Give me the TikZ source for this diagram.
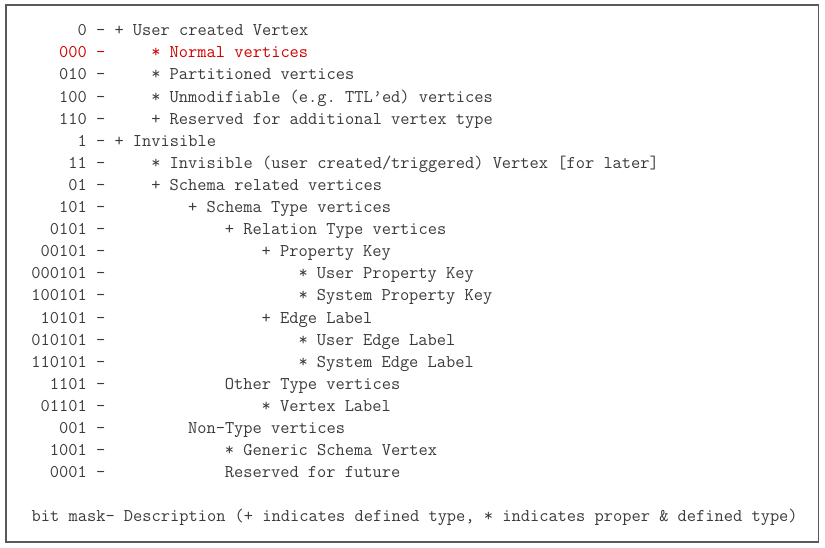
\documentclass[tikz,border=0pt]{standalone}
\definecolor{txt}{HTML}{3A3A3A}
\definecolor{redtxt}{HTML}{D00000}
\definecolor{frame}{HTML}{595959}
\begin{document}
\begin{tikzpicture}[x=0.75pt,y=-0.75pt,
  line/.style={inner sep=0pt,outer sep=0pt,anchor=base west,text=txt,
    font=\fontsize{13.44}{15}\selectfont\ttfamily\frenchspacing},
  mask/.style={line,anchor=base east},
  hot/.style={text=redtxt}]
\useasboundingbox (0,0) rectangle (825,547);
\draw[frame,line width=1.1pt] (6,5) rectangle (818.5,542);
% column x = 31.7 + 9.2*c ; baseline y = 35.7 + 22.1*row
\def\cx#1{31.7+9.2*#1}
\node[mask]      (m0)  at ({\cx{8}},{35.7+22.1*0})  {0 -};
\node[line]      (t0)  at ({\cx{9}},{35.7+22.1*0})  {+ User created Vertex};
\node[mask,hot]  (m1)  at ({\cx{8}},{35.7+22.1*1})  {000 -};
\node[line,hot]  (t1)  at ({\cx{13}},{35.7+22.1*1}) {* Normal vertices};
\node[mask]      (m2)  at ({\cx{8}},{35.7+22.1*2})  {010 -};
\node[line]      (t2)  at ({\cx{13}},{35.7+22.1*2}) {* Partitioned vertices};
\node[mask]      (m3)  at ({\cx{8}},{35.7+22.1*3})  {100 -};
\node[line]      (t3)  at ({\cx{13}},{35.7+22.1*3}) {* Unmodifiable (e.g. TTL’ed) vertices};
\node[mask]      (m4)  at ({\cx{8}},{35.7+22.1*4})  {110 -};
\node[line]      (t4)  at ({\cx{13}},{35.7+22.1*4}) {+ Reserved for additional vertex type};
\node[mask]      (m5)  at ({\cx{8}},{35.7+22.1*5})  {1 -};
\node[line]      (t5)  at ({\cx{9}},{35.7+22.1*5})  {+ Invisible};
\node[mask]      (m6)  at ({\cx{8}},{35.7+22.1*6})  {11 -};
\node[line]      (t6)  at ({\cx{13}},{35.7+22.1*6}) {* Invisible (user created/triggered) Vertex [for later]};
\node[mask]      (m7)  at ({\cx{8}},{35.7+22.1*7})  {01 -};
\node[line]      (t7)  at ({\cx{13}},{35.7+22.1*7}) {+ Schema related vertices};
\node[mask]      (m8)  at ({\cx{8}},{35.7+22.1*8})  {101 -};
\node[line]      (t8)  at ({\cx{17}},{35.7+22.1*8}) {+ Schema Type vertices};
\node[mask]      (m9)  at ({\cx{8}},{35.7+22.1*9})  {0101 -};
\node[line]      (t9)  at ({\cx{21}},{35.7+22.1*9}) {+ Relation Type vertices};
\node[mask]      (m10) at ({\cx{8}},{35.7+22.1*10}) {00101 -};
\node[line]      (t10) at ({\cx{25}},{35.7+22.1*10}) {+ Property Key};
\node[mask]      (m11) at ({\cx{8}},{35.7+22.1*11}) {000101 -};
\node[line]      (t11) at ({\cx{29}},{35.7+22.1*11}) {* User Property Key};
\node[mask]      (m12) at ({\cx{8}},{35.7+22.1*12}) {100101 -};
\node[line]      (t12) at ({\cx{29}},{35.7+22.1*12}) {* System Property Key};
\node[mask]      (m13) at ({\cx{8}},{35.7+22.1*13}) {10101 -};
\node[line]      (t13) at ({\cx{25}},{35.7+22.1*13}) {+ Edge Label};
\node[mask]      (m14) at ({\cx{8}},{35.7+22.1*14}) {010101 -};
\node[line]      (t14) at ({\cx{29}},{35.7+22.1*14}) {* User Edge Label};
\node[mask]      (m15) at ({\cx{8}},{35.7+22.1*15}) {110101 -};
\node[line]      (t15) at ({\cx{29}},{35.7+22.1*15}) {* System Edge Label};
\node[mask]      (m16) at ({\cx{8}},{35.7+22.1*16}) {1101 -};
\node[line]      (t16) at ({\cx{21}},{35.7+22.1*16}) {Other Type vertices};
\node[mask]      (m17) at ({\cx{8}},{35.7+22.1*17}) {01101 -};
\node[line]      (t17) at ({\cx{25}},{35.7+22.1*17}) {* Vertex Label};
\node[mask]      (m18) at ({\cx{8}},{35.7+22.1*18}) {001 -};
\node[line]      (t18) at ({\cx{17}},{35.7+22.1*18}) {Non-Type vertices};
\node[mask]      (m19) at ({\cx{8}},{35.7+22.1*19}) {1001 -};
\node[line]      (t19) at ({\cx{21}},{35.7+22.1*19}) {* Generic Schema Vertex};
\node[mask]      (m20) at ({\cx{8}},{35.7+22.1*20}) {0001 -};
\node[line]      (t20) at ({\cx{21}},{35.7+22.1*20}) {Reserved for future};
\node[line]      (legend) at ({\cx{0}},{35.7+22.1*22}) {bit mask- Description (+ indicates defined type, * indicates proper \& defined type)};
\end{tikzpicture}
\end{document}
